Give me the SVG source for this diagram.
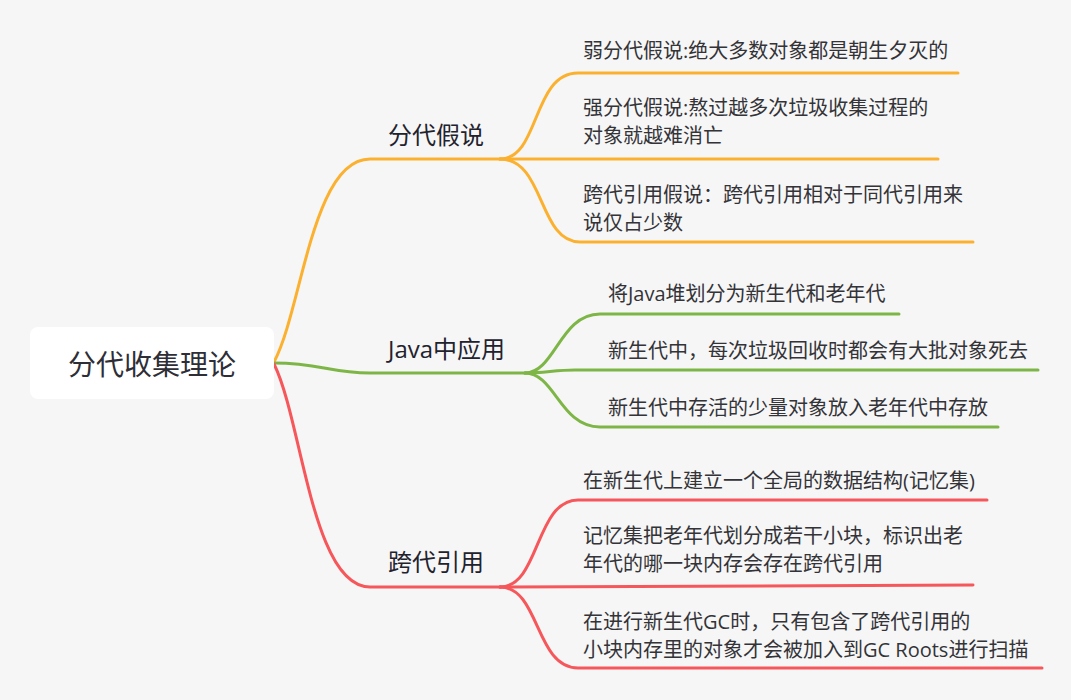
<svg xmlns="http://www.w3.org/2000/svg" width="1071" height="700" viewBox="0 0 1071 700">
<style>
.t{font-family:"Open Sans","Noto Sans CJK SC",sans-serif;fill:#333338}
.item{font-size:20px}
.lbl{font-size:24px;fill:#22222e}
.root{font-size:28px;fill:#2e2e36}
.c{fill:none;stroke-width:3;stroke-linecap:round;stroke-linejoin:round}
.o{stroke:#FBB12F}
.g{stroke:#7DB646}
.r{stroke:#F6575B}
</style>
<rect x="0" y="0" width="1071" height="700" fill="#F6F6F6"/>
<g id="connectors">
<path class="c o" d="M274,362 C302,310 312,159 370,159 L500,159"/>
<path class="c o" d="M500,159 C540,159 532,73 578,73 L958,73"/>
<path class="c o" d="M500,159 L938,159"/>
<path class="c o" d="M500,159 C545,159 538,242 580,242 L973,242"/>
<path class="c g" d="M274,363 C320,363 330,373 370,373 L525,373"/>
<path class="c g" d="M525,373 C555,373 560,314 600,314 L899,314"/>
<path class="c g" d="M525,373 C545,373 555,370 575,370 L1038,370"/>
<path class="c g" d="M525,373 C555,373 560,427 600,427 L998,427"/>
<path class="c r" d="M274,364 C302,420 312,587 370,587 L500,587"/>
<path class="c r" d="M500,587 C540,587 535,500 578,500 L987,500"/>
<path class="c r" d="M500,587 L973,585"/>
<path class="c r" d="M500,587 C540,587 535,668 578,668 L1042,668"/>
</g>
<g id="root">
<rect x="30" y="327" width="244" height="72" rx="8" fill="#FFFFFF"/>
<text class="t root" x="152" y="375" text-anchor="middle">分代收集理论</text>
</g>
<g id="b1"><text class="t lbl" x="388" y="144">分代假说</text></g>
<g id="b2"><text class="t lbl" x="388" y="358">Java中应用</text></g>
<g id="b3"><text class="t lbl" x="388" y="571">跨代引用</text></g>
<g id="b1i1"><text class="t item" x="583" y="58">弱分代假说:绝大多数对象都是朝生夕灭的</text></g>
<g id="b1i2"><text class="t item" x="583" y="115">强分代假说:熬过越多次垃圾收集过程的</text><text class="t item" x="583" y="143">对象就越难消亡</text></g>
<g id="b1i3"><text class="t item" x="583" y="202">跨代引用假说：跨代引用相对于同代引用来</text><text class="t item" x="583" y="230">说仅占少数</text></g>
<g id="b2i1"><text class="t item" x="608" y="301">将Java堆划分为新生代和老年代</text></g>
<g id="b2i2"><text class="t item" x="608" y="358">新生代中，每次垃圾回收时都会有大批对象死去</text></g>
<g id="b2i3"><text class="t item" x="608" y="415">新生代中存活的少量对象放入老年代中存放</text></g>
<g id="b3i1"><text class="t item" x="583" y="488">在新生代上建立一个全局的数据结构(记忆集)</text></g>
<g id="b3i2"><text class="t item" x="583" y="543">记忆集把老年代划分成若干小块，标识出老</text><text class="t item" x="583" y="571">年代的哪一块内存会存在跨代引用</text></g>
<g id="b3i3"><text class="t item" x="583" y="629">在进行新生代GC时，只有包含了跨代引用的</text><text class="t item" x="583" y="657">小块内存里的对象才会被加入到GC Roots进行扫描</text></g>
</svg>
